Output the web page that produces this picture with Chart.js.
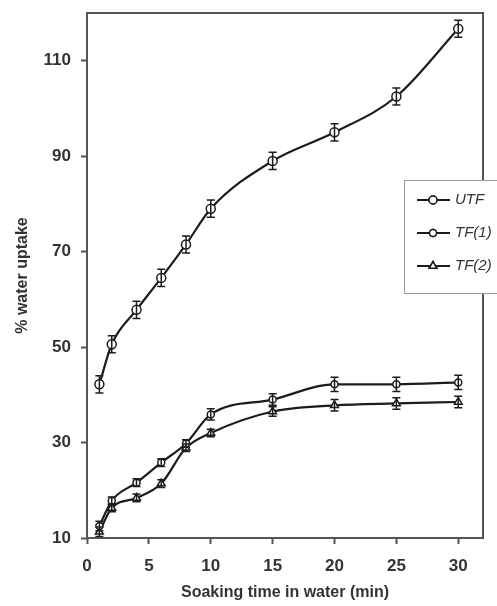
<!DOCTYPE html>
<html>
<head>
<meta charset="utf-8">
<script src="https://cdn.jsdelivr.net/npm/chart.js@4/dist/chart.umd.min.js"></script>
<style>
  html, body { margin: 0; padding: 0; background: #fff; }
  #wrap { width: 497px; height: 606px; }
</style>
</head>
<body>
<div id="wrap"><canvas id="grafico" width="497" height="606"></canvas></div>
<script>
// dados
var tempos = [1, 2, 4, 6, 8, 10, 15, 20, 25, 30];
var utf = [42.2, 50.6, 57.8, 64.5, 71.5, 79, 89, 95, 102.5, 116.7];
var tf1 = [12.5, 17.8, 21.6, 25.8, 29.8, 35.9, 39, 42.2, 42.2, 42.6];
var tf2 = [11.3, 16.3, 18.4, 21.4, 28.9, 32, 36.5, 37.8, 38.2, 38.5];
var erroUtf = [1.8, 1.8, 1.8, 1.8, 1.8, 1.8, 1.8, 1.8, 1.8, 1.8];
var erroTf1 = [1, 0.8, 0.8, 0.8, 0.8, 1.2, 1.2, 1.5, 1.5, 1.5];
var erroTf2 = [1, 0.8, 0.8, 0.8, 0.8, 0.8, 1, 1.2, 1.2, 1.2];
var nomes = ['UTF', 'TF(1)', 'TF(2)'];
var xTicks = [0, 5, 10, 15, 20, 25, 30];
var yTicks = [10, 30, 50, 70, 90, 110];

function pontos(ys) {
    return tempos.map(function (t, i) { return { x: t, y: ys[i] }; });
}

var corLinha = '#1c1c1c';
var corEixo = '#555';
var corTexto = '#333';
var fonte = '"Liberation Sans", Arial, sans-serif';

// barras de erro
var barrasErro = {
    id: 'barrasErro',
    afterDatasetsDraw: function (chart) {
        var ctx = chart.ctx;
        var xs = chart.scales.x, ys = chart.scales.y;
        ctx.save();
        ctx.strokeStyle = corLinha;
        ctx.lineWidth = 1.5;
        chart.data.datasets.forEach(function (ds) {
            ds.data.forEach(function (p, i) {
                var e = ds.erros[i];
                var px = xs.getPixelForValue(p.x);
                var y1 = ys.getPixelForValue(p.y + e);
                var y2 = ys.getPixelForValue(p.y - e);
                ctx.beginPath();
                ctx.moveTo(px, y1); ctx.lineTo(px, y2);
                ctx.moveTo(px - 4, y1); ctx.lineTo(px + 4, y1);
                ctx.moveTo(px - 4, y2); ctx.lineTo(px + 4, y2);
                ctx.stroke();
            });
        });
        ctx.restore();
    }
};

// moldura e legenda
var moldura = {
    id: 'moldura',
    afterDraw: function (chart) {
        var ctx = chart.ctx;
        var a = chart.chartArea;
        ctx.save();
        ctx.strokeStyle = corEixo;
        ctx.lineWidth = 2;
        ctx.strokeRect(a.left, a.top, a.right - a.left, a.bottom - a.top);

        // legenda
        var lx = 404, ly = 180, lw = 110, lh = 113;
        ctx.fillStyle = '#fff';
        ctx.fillRect(lx, ly, lw, lh);
        ctx.strokeStyle = '#999';
        ctx.lineWidth = 1;
        ctx.strokeRect(lx + 0.5, ly + 0.5, lw, lh);
        var linhasY = [200, 233, 266];
        var estilos = ['circle', 'circle', 'triangle'];
        var raios = [4, 3.5, 4.5];
        ctx.font = 'italic 15px ' + fonte;
        ctx.textBaseline = 'middle';
        nomes.forEach(function (n, i) {
            var y = linhasY[i];
            ctx.strokeStyle = corLinha;
            ctx.lineWidth = 2;
            ctx.beginPath();
            ctx.moveTo(417, y); ctx.lineTo(450, y);
            ctx.stroke();
            ctx.fillStyle = '#fff';
            ctx.lineWidth = 1.5;
            Chart.helpers.drawPoint(ctx, { pointStyle: estilos[i], radius: raios[i], borderWidth: 1.5 }, 433, y);
            ctx.fill();
            ctx.stroke();
            ctx.fillStyle = corTexto;
            ctx.fillText(n, 455, y);
        });
        ctx.restore();
    }
};

function serie(nome, ys, erros, estilo, raio) {
    return {
        label: nome,
        data: pontos(ys),
        erros: erros,
        borderColor: corLinha,
        borderWidth: 2.2,
        backgroundColor: '#fff',
        pointStyle: estilo,
        pointRadius: raio,
        pointBorderWidth: 1.5,
        pointBorderColor: corLinha,
        pointBackgroundColor: '#fff',
        cubicInterpolationMode: 'monotone',
        fill: false
    };
}

var ctx = document.getElementById('grafico').getContext('2d');
var grafico = new Chart(ctx, {
    type: 'line',
    data: {
        datasets: [
            serie(nomes[0], utf, erroUtf, 'circle', 4.5),
            serie(nomes[1], tf1, erroTf1, 'circle', 3.5),
            serie(nomes[2], tf2, erroTf2, 'triangle', 4.5)
        ]
    },
    options: {
        responsive: false,
        animation: false,
        layout: { padding: { top: 13, right: 14, left: 0, bottom: 0 } },
        plugins: {
            legend: { display: false },
            tooltip: { enabled: false }
        },
        scales: {
            x: {
                type: 'linear',
                min: 0,
                max: 32,
                afterBuildTicks: function (axis) {
                    axis.ticks = xTicks.map(function (v) { return { value: v }; });
                },
                afterFit: function (axis) {
                    axis.height = 68;
                    axis.paddingLeft = 0;
                    axis.paddingRight = 0;
                },
                grid: { drawOnChartArea: false, drawTicks: true, tickLength: 6, color: corEixo, tickWidth: 2 },
                border: { display: false },
                ticks: {
                    color: corTexto,
                    padding: 12,
                    maxRotation: 0,
                    font: { family: fonte, size: 17, weight: 'bold' }
                },
                title: {
                    display: true,
                    text: 'Soaking time in water (min)',
                    color: corTexto,
                    padding: { top: 4 },
                    font: { family: fonte, size: 16, weight: 'bold' }
                }
            },
            y: {
                min: 10,
                max: 120,
                afterBuildTicks: function (axis) {
                    axis.ticks = yTicks.map(function (v) { return { value: v }; });
                },
                afterFit: function (axis) {
                    axis.width = 87;
                    axis.paddingTop = 0;
                    axis.paddingBottom = 0;
                },
                grid: { drawOnChartArea: false, drawTicks: true, tickLength: 6, color: corEixo, tickWidth: 2 },
                border: { display: false },
                ticks: {
                    color: corTexto,
                    padding: 10,
                    font: { family: fonte, size: 17, weight: 'bold' }
                },
                title: {
                    display: true,
                    text: '% water uptake',
                    color: corTexto,
                    padding: { top: 13, bottom: 4 },
                    font: { family: fonte, size: 16, weight: 'bold' }
                }
            }
        }
    },
    plugins: [barrasErro, moldura]
});
</script>
</body>
</html>
